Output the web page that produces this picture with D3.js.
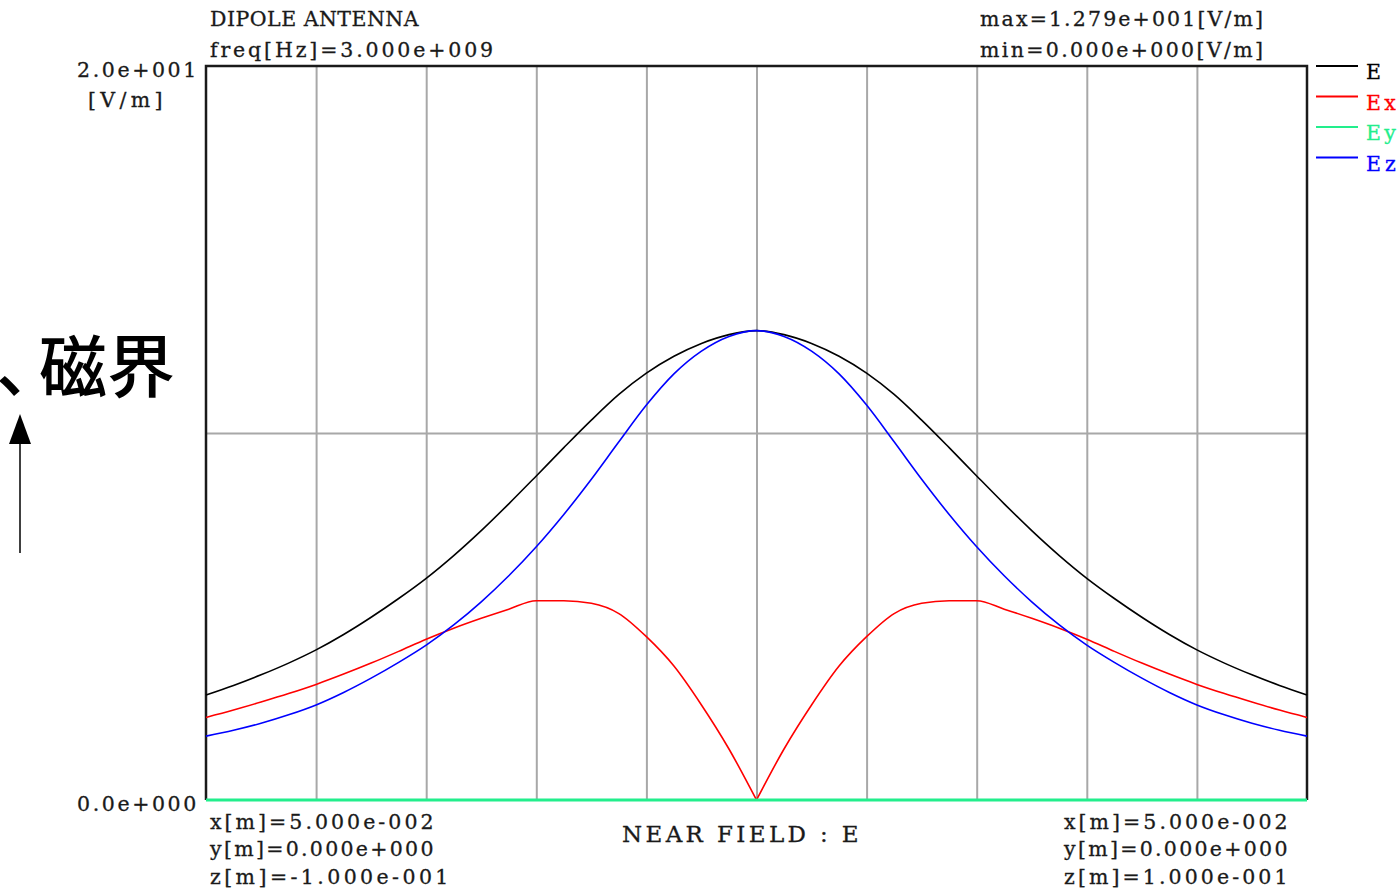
<!DOCTYPE html>
<html>
<head>
<meta charset="utf-8">
<script src="https://cdn.jsdelivr.net/npm/d3@7"></script>
<style>
  body { margin: 0; background: #fff; }
  .mono { font-family: "DejaVu Serif", "Liberation Serif", serif; font-size: 20.5px; fill: #1a1a1a; stroke: #1a1a1a; stroke-width: 0.3px; }
  .grid line { stroke: #a8a8a8; stroke-width: 2px; }
  .grid path { display: none; }
</style>
</head>
<body>
<div class="viz"></div>
<script>
// z position along the observation line [m]
var zValues = [ -0.100, -0.095, -0.090, -0.085, -0.080, -0.075, -0.070, -0.065, -0.060, -0.055,
                -0.050, -0.045, -0.040, -0.035, -0.030, -0.025, -0.020, -0.015, -0.010, -0.005,
                 0.000,
                 0.005,  0.010,  0.015,  0.020,  0.025,  0.030,  0.035,  0.040,  0.045,  0.050,
                 0.055,  0.060,  0.065,  0.070,  0.075,  0.080,  0.085,  0.090,  0.095,  0.100 ];

// field magnitudes [V/m]
var eValues  = [ 2.86, 3.12, 3.41, 3.73, 4.09, 4.51, 4.98, 5.49, 6.04, 6.66,
                 7.34, 8.07, 8.83, 9.60, 10.35, 11.05, 11.63, 12.09, 12.44, 12.68,
                 12.79,
                 12.68, 12.44, 12.09, 11.63, 11.05, 10.35, 9.60, 8.83, 8.07, 7.34,
                 6.66, 6.04, 5.49, 4.98, 4.51, 4.09, 3.73, 3.41, 3.12, 2.86 ];
var exValues = [ 2.25, 2.45, 2.67, 2.90, 3.15, 3.43, 3.73, 4.05, 4.38, 4.68,
                 4.95, 5.20, 5.43, 5.43, 5.36, 5.08, 4.45, 3.65, 2.59, 1.39,
                 0.00,
                 1.39, 2.59, 3.65, 4.45, 5.08, 5.36, 5.43, 5.43, 5.20, 4.95,
                 4.68, 4.38, 4.05, 3.73, 3.43, 3.15, 2.90, 2.67, 2.45, 2.25 ];
var eyValues = [ 0, 0, 0, 0, 0, 0, 0, 0, 0, 0, 0, 0, 0, 0, 0, 0, 0, 0, 0, 0, 0,
                 0, 0, 0, 0, 0, 0, 0, 0, 0, 0, 0, 0, 0, 0, 0, 0, 0, 0, 0, 0 ];
var ezValues = [ 1.74, 1.90, 2.09, 2.32, 2.59, 2.93, 3.32, 3.75, 4.22, 4.77,
                 5.40, 6.11, 6.90, 7.78, 8.74, 9.76, 10.76, 11.61, 12.23, 12.63,
                 12.79,
                 12.63, 12.23, 11.61, 10.76, 9.76, 8.74, 7.78, 6.90, 6.11, 5.40,
                 4.77, 4.22, 3.75, 3.32, 2.93, 2.59, 2.32, 2.09, 1.90, 1.74 ];

var seriesNames = [ "E", "Ex", "Ey", "Ez" ];
var seriesColors = [ "#000000", "#ff0000", "#22ee8c", "#0000ff" ];

var zTicks = [ -0.1, -0.08, -0.06, -0.04, -0.02, 0, 0.02, 0.04, 0.06, 0.08, 0.1 ];
var yTicks = [ 0, 20 ];
var yTickLabels = [ "0.0e+000", "2.0e+001" ];
var yGrid = [ 10 ];

var headerLeft = [ "DIPOLE ANTENNA", "freq[Hz]=3.000e+009" ];
var headerRight = [ "max=1.279e+001[V/m]", "min=0.000e+000[V/m]" ];
var footerLeft = [ "x[m]=5.000e-002", "y[m]=0.000e+000", "z[m]=-1.000e-001" ];
var footerRight = [ "x[m]=5.000e-002", "y[m]=0.000e+000", "z[m]=1.000e-001" ];

var margin = { top: 66, left: 206 },
    width = 1101,
    height = 734,
    charWidth = 14.9;

// spread a text so every character takes one fixed-width cell
var fixedPitch = function( sel, w ) {
    sel.attr( "textLength", function() { return this.textContent.length * ( w || charWidth ); } )
        .attr( "lengthAdjust", "spacing" );
};

var svg = d3.select( ".viz" )
    .append( "svg" )
    .attr( "width", 1398 )
    .attr( "height", 890 );

var g = svg.append( "g" )
    .attr( "transform", "translate(" + margin.left + "," + margin.top + ")" );

var x = d3.scaleLinear().domain( [ -0.1, 0.1 ] ).range( [ 0, width ] );
var y = d3.scaleLinear().domain( [ 0, 20 ] ).range( [ height, 0 ] );

// grid
g.append( "g" )
    .attr( "class", "grid" )
    .attr( "transform", "translate(0," + height + ")" )
    .call( d3.axisBottom( x ).tickValues( zTicks.slice( 1, -1 ) ).tickSize( -height ).tickFormat( "" ) );

g.append( "g" )
    .attr( "class", "grid" )
    .call( d3.axisLeft( y ).tickValues( yGrid ).tickSize( -width ).tickFormat( "" ) );

// frame (bottom edge is covered by the Ey trace)
g.append( "path" )
    .attr( "d", "M0," + height + "V0H" + width + "V" + height )
    .attr( "fill", "none" )
    .attr( "stroke", "#1a1a1a" )
    .attr( "stroke-width", 2.5 );

// y tick labels
var yAxis = g.append( "g" )
    .call( d3.axisLeft( y ).tickValues( yTicks ).tickSize( 0 )
        .tickFormat( function( d, i ) { return yTickLabels[ i ]; } ) );
yAxis.select( ".domain" ).remove();
yAxis.selectAll( "text" )
    .attr( "class", "mono" )
    .attr( "font-family", null )
    .attr( "font-size", null )
    .attr( "text-anchor", "start" )
    .attr( "x", -129 )
    .attr( "dy", "0.5em" )
    .call( fixedPitch );

g.append( "text" )
    .attr( "class", "mono" )
    .attr( "x", -118 )
    .attr( "y", 41 )
    .text( "[V/m]" )
    .call( fixedPitch );

// curves
var allSeries = [ eValues, exValues, eyValues, ezValues ];
var line = d3.line()
    .x( function( d ) { return x( d[ 0 ] ); } )
    .y( function( d ) { return y( d[ 1 ] ); } )
    .curve( d3.curveMonotoneX );

var drawOrder = [ 0, 1, 3, 2 ];
drawOrder.forEach( function( s ) {
    var pts = zValues.map( function( z, i ) { return [ z, allSeries[ s ][ i ] ]; } );
    // Ex has a cusp at z=0, draw each side separately
    var parts = s === 1 ?
        [ pts.filter( function( d ) { return d[ 0 ] <= 0; } ), pts.filter( function( d ) { return d[ 0 ] >= 0; } ) ] :
        [ pts ];
    parts.forEach( function( p ) {
        g.append( "path" )
            .datum( p )
            .attr( "d", line )
            .attr( "fill", "none" )
            .attr( "stroke", seriesColors[ s ] )
            .attr( "stroke-width", s === 2 ? 3 : 1.6 );
    } );
} );

// legend
var legend = svg.selectAll( ".legend" )
    .data( seriesNames )
    .enter()
    .append( "g" )
    .attr( "class", "legend" )
    .attr( "transform", function( d, i ) { return "translate(1316," + ( 66 + i * 30.5 ) + ")"; } );

legend.append( "line" )
    .attr( "x1", 0 ).attr( "x2", 42 )
    .attr( "stroke", function( d, i ) { return seriesColors[ i ]; } )
    .attr( "stroke-width", 2 );

legend.append( "text" )
    .attr( "class", "mono" )
    .attr( "x", 50 )
    .attr( "y", 13 )
    .style( "fill", function( d, i ) { return seriesColors[ i ]; } )
    .style( "stroke", function( d, i ) { return seriesColors[ i ]; } )
    .text( function( d ) { return d; } )
    .call( fixedPitch );

// header / footer texts
svg.selectAll( ".hl" ).data( headerLeft ).enter().append( "text" )
    .attr( "class", "mono hl" )
    .attr( "x", 210 )
    .attr( "y", function( d, i ) { return 26 + i * 31; } )
    .text( function( d ) { return d; } )
    .call( fixedPitch );

svg.selectAll( ".hr" ).data( headerRight ).enter().append( "text" )
    .attr( "class", "mono hr" )
    .attr( "x", 980 )
    .attr( "y", function( d, i ) { return 26 + i * 31; } )
    .text( function( d ) { return d; } )
    .call( fixedPitch );

svg.selectAll( ".fl" ).data( footerLeft ).enter().append( "text" )
    .attr( "class", "mono fl" )
    .attr( "x", 210 )
    .attr( "y", function( d, i ) { return 829 + i * 27.3; } )
    .text( function( d ) { return d; } )
    .call( fixedPitch );

svg.selectAll( ".fr" ).data( footerRight ).enter().append( "text" )
    .attr( "class", "mono fr" )
    .attr( "x", 1064 )
    .attr( "y", function( d, i ) { return 829 + i * 27.3; } )
    .text( function( d ) { return d; } )
    .call( fixedPitch );

svg.append( "text" )
    .attr( "class", "mono" )
    .attr( "x", 622 )
    .attr( "y", 842 )
    .style( "font-size", "23px" )
    .text( "NEAR FIELD : E" )
    .call( fixedPitch, 16.9 );

// annotation on the left (cut at the window edge as in the original)
svg.append( "text" )
    .attr( "x", "-4 39 107" )
    .attr( "y", 392 )
    .style( "font-family", "'Noto Sans CJK JP', sans-serif" )
    .style( "font-size", "68px" )
    .style( "font-weight", 500 )
    .style( "fill", "#000" )
    .text( "、磁界" );

svg.append( "line" )
    .attr( "x1", 20 ).attr( "x2", 20 )
    .attr( "y1", 553 ).attr( "y2", 440 )
    .attr( "stroke", "#000" )
    .attr( "stroke-width", 1.5 );

svg.append( "path" )
    .attr( "d", "M20,414L31,444L9,444Z" )
    .attr( "fill", "#000" );
</script>
</body>
</html>
